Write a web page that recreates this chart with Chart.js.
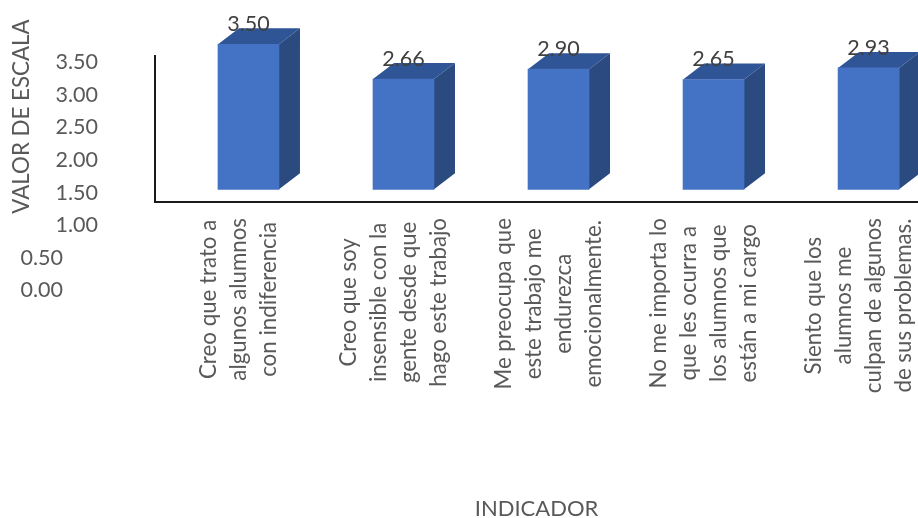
<!DOCTYPE html>
<html><head><meta charset="utf-8">
<style>html,body{margin:0;padding:0;background:#fff;overflow:hidden}canvas{display:block}</style>
<script src="https://cdn.jsdelivr.net/npm/chart.js@4"></script>
</head><body><canvas id="c" width="918" height="518"></canvas>
<script>
const categories = [
  ["Creo que trato a","algunos alumnos","con indiferencia"],
  ["Creo que soy","insensible con la","gente desde que","hago este trabajo"],
  ["Me preocupa que","este trabajo me","endurezca","emocionalmente."],
  ["No me importa lo","que les ocurra a","los alumnos que","están a mi cargo"],
  ["Siento que los","alumnos me","culpan de algunos","de sus problemas."]
];
const values = [3.50, 2.66, 2.90, 2.65, 2.93];
const tickValues = [3.5, 3.0, 2.5, 2.0, 1.5, 1.0, 0.5, 0.0];
const axisTitleY = "VALOR DE ESCALA";
const axisTitleX = "INDICADOR";

const FONT = 'Lato, "Open Sans", sans-serif';
const depthX = 21, depthY = 16;

const look = {
  id: 'look',
  beforeDatasetsDraw(chart) {
    const ctx = chart.ctx, meta = chart.getDatasetMeta(0);
    ctx.save();
    meta.data.forEach(b => {
      const p = b.getProps(['x','y','base','width'], true);
      const l = p.x - p.width/2, r = p.x + p.width/2;
      ctx.fillStyle = '#2F5597';
      ctx.beginPath();
      ctx.moveTo(l, p.y); ctx.lineTo(l+depthX, p.y-depthY);
      ctx.lineTo(r+depthX, p.y-depthY); ctx.lineTo(r, p.y); ctx.closePath(); ctx.fill();
      ctx.fillStyle = '#2A4A80';
      ctx.beginPath();
      ctx.moveTo(r, p.y); ctx.lineTo(r+depthX, p.y-depthY);
      ctx.lineTo(r+depthX, p.base-depthY); ctx.lineTo(r, p.base); ctx.closePath(); ctx.fill();
    });
    ctx.restore();
  },
  afterDraw(chart) {
    const ctx = chart.ctx, meta = chart.getDatasetMeta(0);
    const tickScale = chart.scales.yTicks;
    ctx.save();
    ctx.textBaseline = 'middle';
    // value labels
    ctx.font = '21.5px ' + FONT; ctx.fillStyle = '#404040'; ctx.textAlign = 'center';
    meta.data.forEach((b,i) => ctx.fillText(values[i].toFixed(2), b.x, b.y - 20));
    // misplaced value-axis tick labels
    ctx.fillStyle = '#595959'; ctx.textAlign = 'right';
    tickValues.forEach(v => ctx.fillText(v.toFixed(2), v >= 1 ? 98 : 63, tickScale.getPixelForValue(v) + 1));
    // axis title
    ctx.font = '22.3px ' + FONT;
    ctx.save(); ctx.translate(22, 116.5); ctx.rotate(-Math.PI/2); ctx.textAlign='center';
    ctx.fillText(axisTitleY, 0, 0); ctx.restore();
    // category labels
    const top = 218, lineGap = 30;
    categories.forEach((lines,i) => {
      const cx = chart.scales.x.getPixelForValue(i) - 10;
      const maxW = Math.max(...lines.map(s => ctx.measureText(s).width));
      const cy = top + maxW/2;
      lines.forEach((s,j) => {
        ctx.save();
        ctx.translate(cx + (j-(lines.length-1)/2)*lineGap, cy);
        ctx.rotate(-Math.PI/2); ctx.textAlign='center';
        ctx.fillText(s, 0, 0); ctx.restore();
      });
    });
    ctx.restore();
  }
};

new Chart(document.getElementById('c'), {
  type: 'bar',
  plugins: [look],
  data: { datasets: [{
    data: values.map((v,i) => ({x:i, y:v})),
    backgroundColor: '#4472C4', borderWidth: 0, barThickness: 61, clip: false
  }]},
  options: {
    responsive: false, devicePixelRatio: 1, animation: false,
    layout: { padding: {left:0, top:56, right:0, bottom:0} },
    plugins: { legend:{display:false}, tooltip:{enabled:false} },
    scales: {
      x: { type:'linear', offset:false, min:-0.603, max:4.319, grid:{display:false},
           ticks:{display:false},
           border:{display:true, color:'#1a1a1a', width:2},
           title:{display:true, text:axisTitleX, color:'#595959', font:{family:FONT,size:22}, padding:{top:0,bottom:-4}},
           afterFit(s){ s.height = 316; } },
      y: { min:-0.3065, max:3.217, grid:{display:false}, ticks:{display:false},
           border:{display:true, color:'#1a1a1a', width:2},
           afterFit(s){ s.width = 155; } },
      yTicks: { display:false, min:1.341, max:3.577 }
    }
  }
});
</script></body></html>
